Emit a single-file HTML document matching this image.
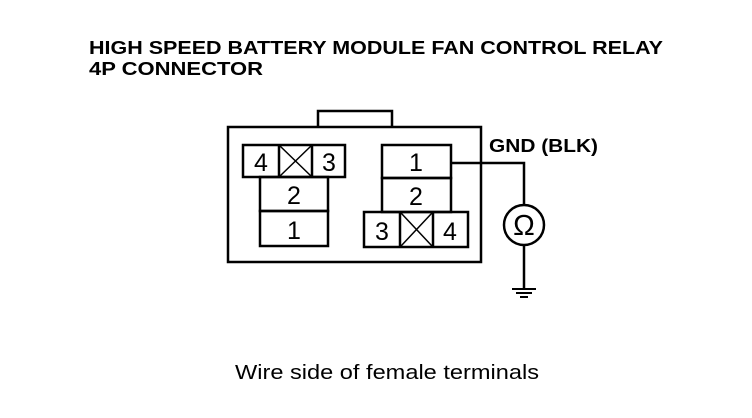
<!DOCTYPE html>
<html><head><style>
body{margin:0;background:#fff;}
svg{display:block;}
</style></head><body>
<svg width="752" height="418" xmlns="http://www.w3.org/2000/svg">
<rect width="752" height="418" fill="#fff"/>
<g font-family="Liberation Sans, Arial, sans-serif" font-weight="bold" font-size="18" fill="#000">
<text x="89" y="54" textLength="574" lengthAdjust="spacingAndGlyphs">HIGH SPEED BATTERY MODULE FAN CONTROL RELAY</text>
<text x="89" y="75" textLength="174" lengthAdjust="spacingAndGlyphs">4P CONNECTOR</text>
<text x="489" y="152" textLength="109" lengthAdjust="spacingAndGlyphs">GND (BLK)</text>
</g>
<g fill="none" stroke="#000" stroke-width="2.5">
<rect x="228" y="127" width="253" height="135"/>
<polyline points="318,127 318,111 392,111 392,127"/>
<rect x="243" y="145" width="102" height="32"/>
<line x1="279" y1="145" x2="279" y2="177"/><line x1="312" y1="145" x2="312" y2="177"/>
<rect x="260" y="177" width="68" height="34"/>
<rect x="260" y="211" width="68" height="35"/>
<rect x="382" y="145" width="69" height="33"/>
<rect x="382" y="178" width="69" height="34"/>
<rect x="364" y="212" width="104" height="35"/>
<line x1="400" y1="212" x2="400" y2="247"/><line x1="433" y1="212" x2="433" y2="247"/>
<polyline points="451,163 524,163 524,205"/>
<circle cx="524" cy="225" r="20"/>
<line x1="524" y1="245" x2="524" y2="288"/>
</g>
<g stroke="#000" stroke-width="1.5">
<line x1="280" y1="146" x2="311" y2="176"/><line x1="311" y1="146" x2="280" y2="176"/>
<line x1="401" y1="213" x2="432" y2="246"/><line x1="432" y1="213" x2="401" y2="246"/>
<line x1="512" y1="289" x2="536" y2="289" stroke-width="2"/>
<line x1="516" y1="293" x2="532" y2="293" stroke-width="2"/>
<line x1="520" y1="297" x2="528" y2="297" stroke-width="2"/>
</g>
<g font-family="Liberation Sans, Arial, sans-serif" font-size="25" fill="#000" text-anchor="middle">
<text x="261" y="171">4</text><text x="329" y="171">3</text>
<text x="294" y="204">2</text><text x="294" y="239">1</text>
<text x="416" y="171">1</text><text x="416" y="205">2</text>
<text x="382" y="240">3</text><text x="450" y="240">4</text>
<text x="524" y="235" font-size="29">Ω</text>
<text x="387" y="379" font-size="20" textLength="304" lengthAdjust="spacingAndGlyphs">Wire side of female terminals</text>
</g>
</svg>
</body></html>
